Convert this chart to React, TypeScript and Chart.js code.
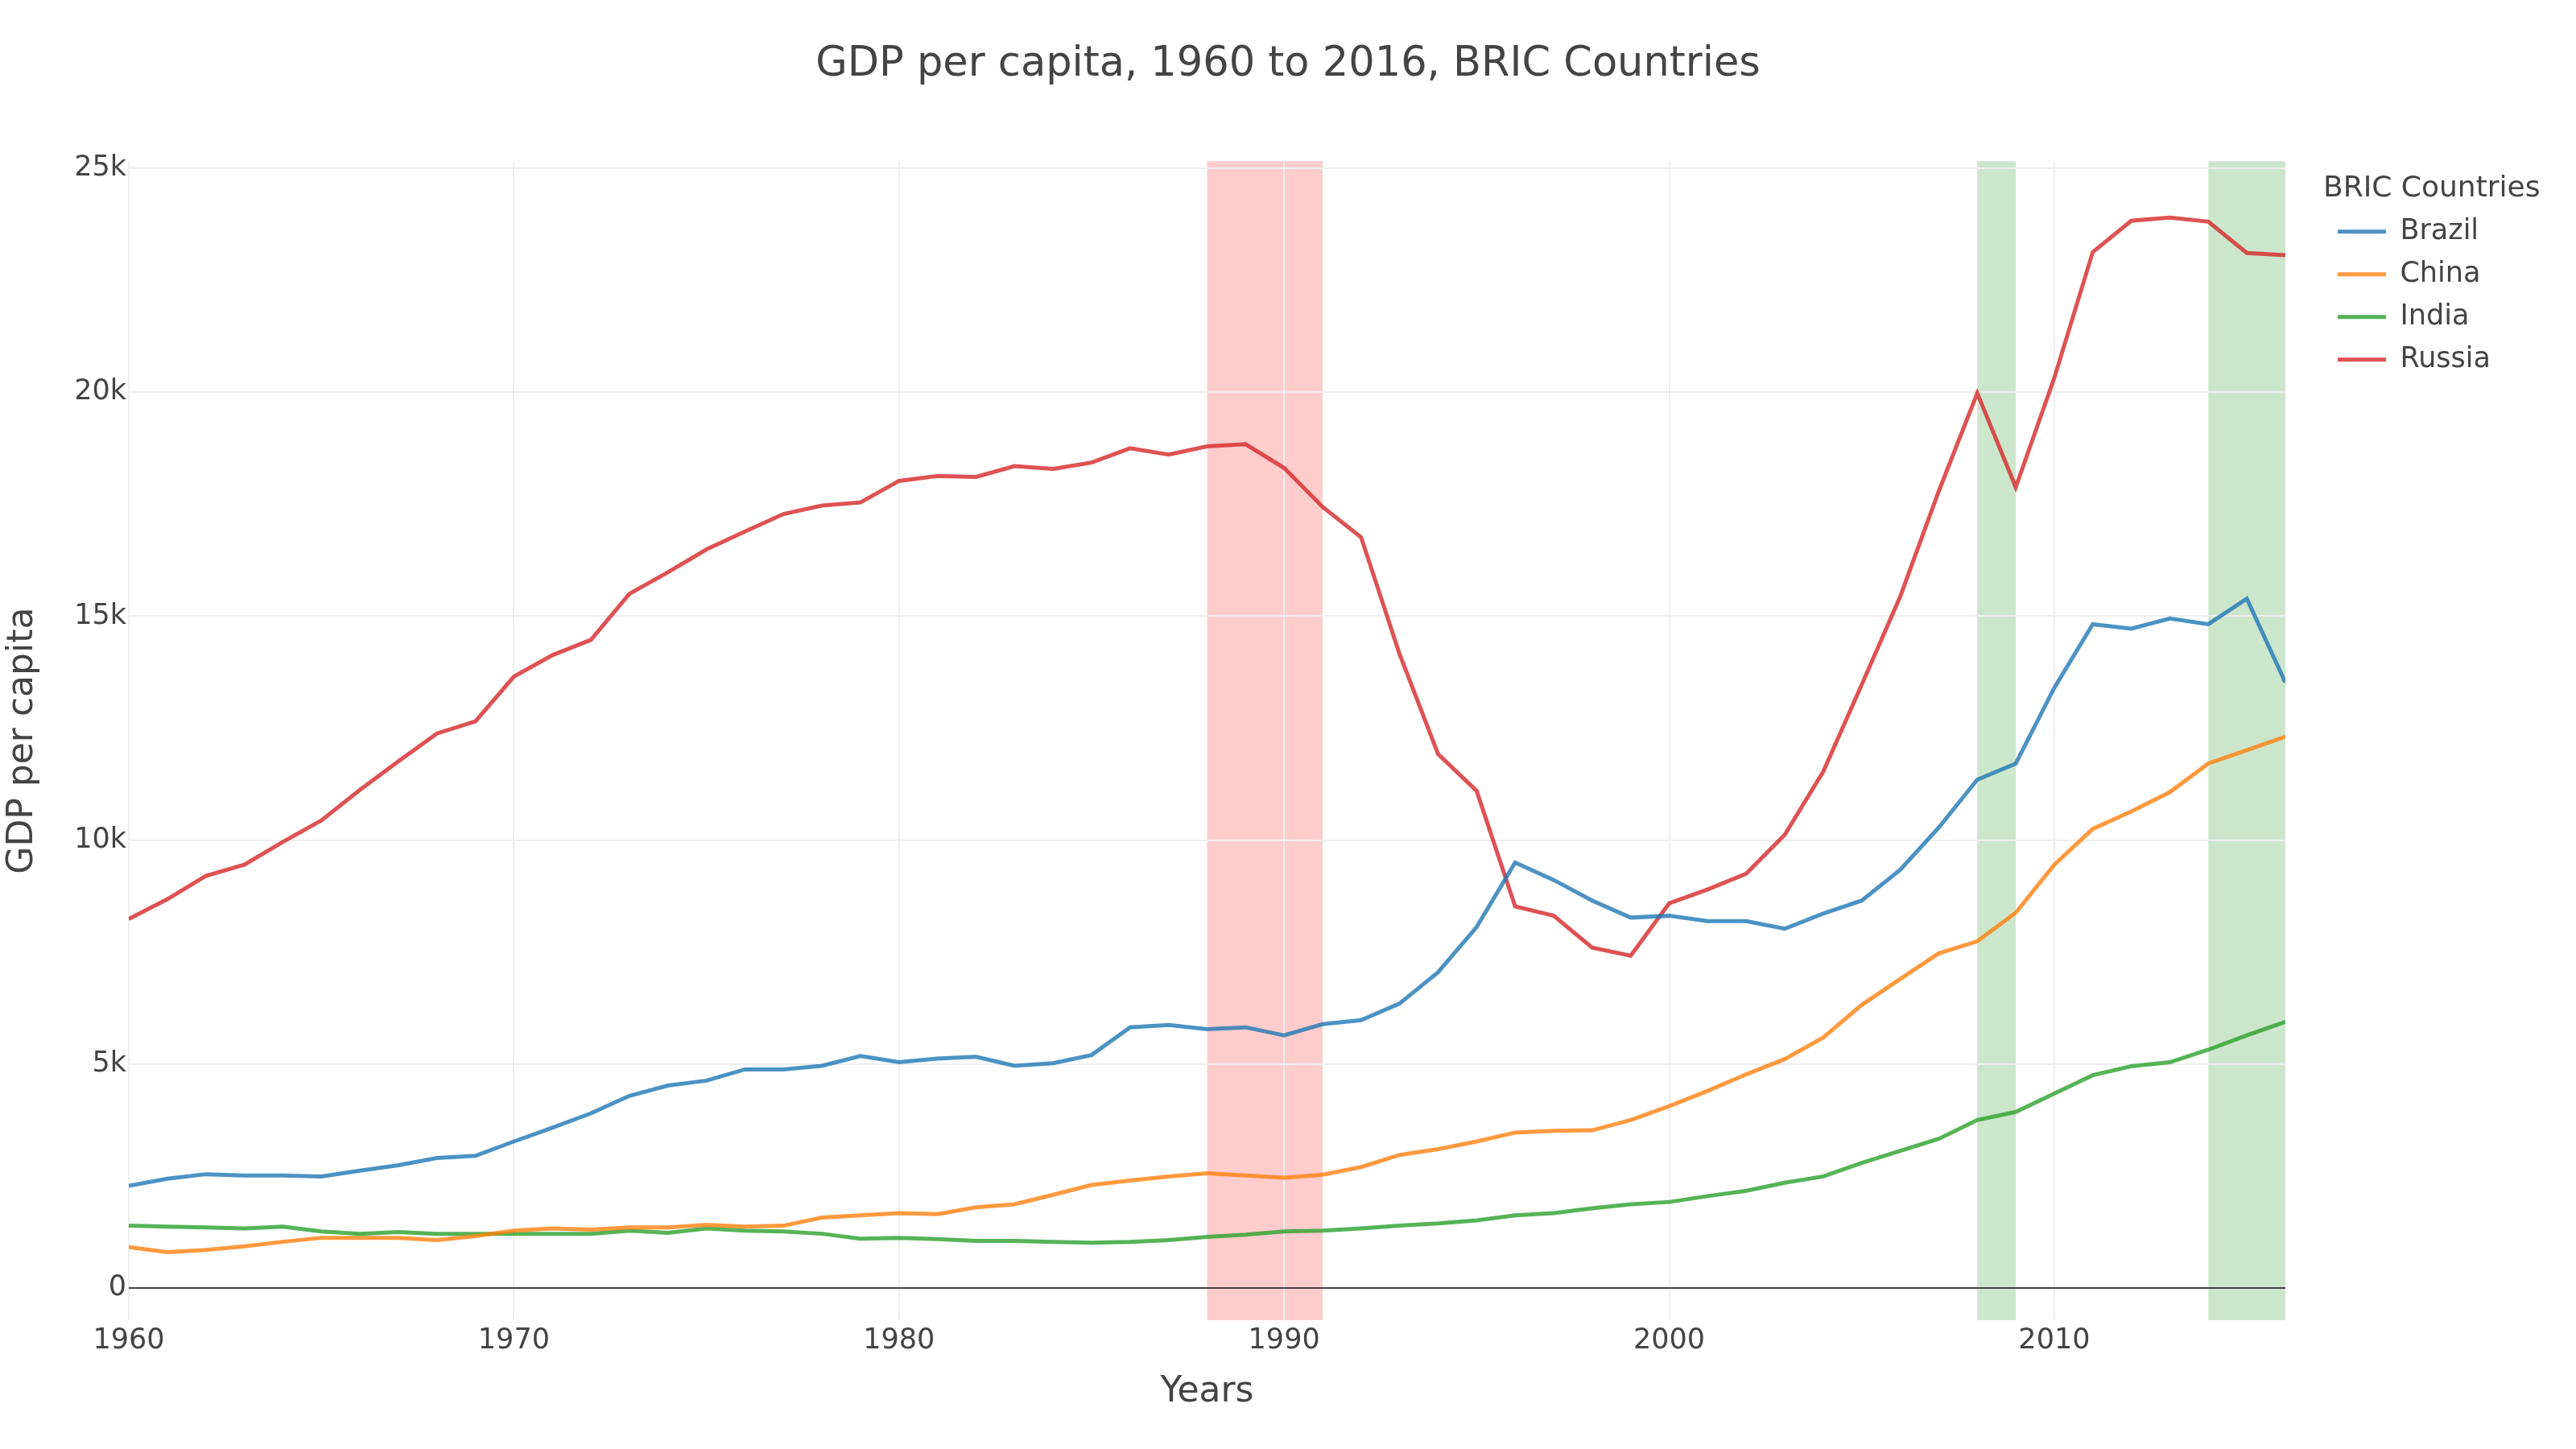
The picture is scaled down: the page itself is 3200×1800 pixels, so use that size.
import React, { useEffect, useRef } from 'react';
import { Chart, registerables } from 'chart.js';

Chart.register(...registerables);

// GDP per capita, 1960 - 2016
const years = [
  1960, 1961, 1962, 1963, 1964, 1965, 1966, 1967, 1968, 1969,
  1970, 1971, 1972, 1973, 1974, 1975, 1976, 1977, 1978, 1979,
  1980, 1981, 1982, 1983, 1984, 1985, 1986, 1987, 1988, 1989,
  1990, 1991, 1992, 1993, 1994, 1995, 1996, 1997, 1998, 1999,
  2000, 2001, 2002, 2003, 2004, 2005, 2006, 2007, 2008, 2009,
  2010, 2011, 2012, 2013, 2014, 2015, 2016,
];

const brazil = [
  2280, 2440, 2540, 2510, 2510, 2490, 2620, 2740, 2900, 2950,
  3270, 3580, 3900, 4290, 4520, 4630, 4880, 4880, 4960, 5180,
  5040, 5120, 5160, 4960, 5020, 5200, 5820, 5870, 5780, 5820,
  5640, 5890, 5980, 6350, 7050, 8060, 9500, 9110, 8650, 8270,
  8310, 8190, 8190, 8020, 8360, 8650, 9340, 10280, 11350, 11710,
  13400, 14820, 14720, 14950, 14820, 15390, 13520,
];

const china = [
  910, 800, 850, 930, 1030, 1120, 1120, 1120, 1070, 1160,
  1280, 1330, 1300, 1350, 1350, 1410, 1370, 1390, 1570, 1620,
  1670, 1650, 1800, 1870, 2080, 2300, 2400, 2490, 2560, 2510,
  2460, 2530, 2700, 2970, 3100, 3270, 3470, 3510, 3520, 3750,
  4060, 4400, 4770, 5110, 5590, 6320, 6900, 7470, 7740, 8380,
  9450, 10250, 10640, 11070, 11710, 12010, 12310,
];

const india = [
  1390, 1370, 1350, 1330, 1370, 1260, 1210, 1250, 1210, 1210,
  1210, 1210, 1210, 1280, 1230, 1330, 1280, 1260, 1210, 1100,
  1120, 1090, 1050, 1050, 1030, 1010, 1030, 1070, 1140, 1190,
  1260, 1280, 1330, 1390, 1440, 1510, 1620, 1670, 1780, 1870,
  1920, 2050, 2170, 2350, 2490, 2790, 3060, 3330, 3750, 3930,
  4340, 4750, 4950, 5040, 5320, 5640, 5940,
];

const russia = [
  8240, 8680, 9200, 9450, 9960, 10440, 11120, 11760, 12380, 12650,
  13650, 14130, 14470, 15500, 15980, 16490, 16890, 17280, 17470, 17540,
  18020, 18130, 18110, 18350, 18290, 18430, 18750, 18610, 18790, 18840,
  18310, 17440, 16760, 14150, 11920, 11100, 8520, 8310, 7600, 7420,
  8590, 8900, 9250, 10120, 11530, 13470, 15440, 17790, 19980, 17880,
  20320, 23130, 23830, 23900, 23810, 23110, 23060,
];

const xTickValues = [1960, 1970, 1980, 1990, 2000, 2010];
const yTickValues = [0, 5000, 10000, 15000, 20000, 25000];

// highlighted periods [start year, end year]
const redPeriods = [[1988, 1991]];
const greenPeriods = [[2008, 2009], [2014, 2016]];

const FONT = "'DejaVu Sans', Verdana, sans-serif";
const TEXT = '#444';

const shadePlugin = {
  id: 'shadePeriods',
  afterLayout(chart: any) {
    // legend clips to its own box; let the title run past the item column
    const lg = chart.legend;
    if (lg) {
      lg.right += 90;
      lg.width += 90;
    }
  },
  beforeDraw(chart: any) {
    const { ctx, chartArea, scales } = chart;
    const x = scales.x;
    const fill = (spans: number[][], color: string) => {
      spans.forEach(([a, b]) => {
        const x1 = x.getPixelForValue(a);
        const x2 = x.getPixelForValue(b);
        ctx.fillStyle = color;
        ctx.fillRect(x1, chartArea.top, x2 - x1, chartArea.bottom - chartArea.top);
      });
    };
    ctx.save();
    fill(redPeriods, 'rgba(255, 0, 0, 0.2)');
    fill(greenPeriods, 'rgba(0, 128, 0, 0.2)');
    ctx.restore();
  },
};

function toPoints(values: number[]) {
  return values.map((v, i) => ({ x: years[i], y: v }));
}

export default function App() {
  const chartRef = useRef<HTMLCanvasElement | null>(null);

  useEffect(() => {
    document.body.style.margin = '0';
    if (!chartRef.current) return;

    const line = (label: string, values: number[], color: string) => ({
      label,
      data: toPoints(values),
      borderColor: color,
      backgroundColor: color,
      borderWidth: 5,
      pointRadius: 0,
      tension: 0,
      fill: false,
    });

    const chart = new Chart(chartRef.current, {
      type: 'line',
      data: {
        datasets: [
          line('Brazil', brazil, 'rgba(31, 119, 180, 0.8)'),
          line('China', china, 'rgba(255, 127, 14, 0.8)'),
          line('India', india, 'rgba(44, 160, 44, 0.8)'),
          line('Russia', russia, 'rgba(214, 39, 40, 0.8)'),
        ],
      },
      options: {
        responsive: false,
        devicePixelRatio: 1,
        animation: false,
        layout: { padding: 0 },
        plugins: {
          title: {
            display: true,
            text: 'GDP per capita, 1960 to 2016, BRIC Countries',
            color: TEXT,
            font: { family: FONT, size: 51, weight: 'normal' },
            padding: { top: 50, bottom: 89 },
          },
          legend: {
            position: 'right',
            align: 'start',
            fullSize: false,
            title: {
              display: true,
              position: 'start',
              text: 'BRIC Countries',
              color: TEXT,
              font: { family: FONT, size: 36, lineHeight: 1 },
              padding: { top: 16, bottom: 0 },
            },
            labels: {
              usePointStyle: true,
              pointStyle: 'line',
              pointStyleWidth: 60,
              padding: 18,
              color: TEXT,
              font: { family: FONT, size: 35 },
            },
          },
          tooltip: { enabled: false },
        },
        scales: {
          x: {
            type: 'linear',
            min: 1960,
            max: 2016,
            afterFit: (s: any) => { s.height = 160; },
            afterBuildTicks: (s: any) => { s.ticks = xTickValues.map((value) => ({ value })); },
            border: { display: false },
            grid: { color: '#eeeeee', lineWidth: 2, drawTicks: false },
            ticks: {
              padding: 5,
              color: TEXT,
              font: { family: FONT, size: 35 },
              callback: (v: any) => String(v),
            },
            title: {
              display: true,
              text: 'Years',
              color: TEXT,
              font: { family: FONT, size: 44 },
              padding: { top: 0, bottom: 44 },
            },
          },
          y: {
            type: 'linear',
            min: -720,
            max: 25160,
            afterFit: (s: any) => { s.width = 160; },
            afterBuildTicks: (s: any) => { s.ticks = yTickValues.map((value) => ({ value })); },
            border: { display: false },
            grid: {
              drawTicks: false,
              color: (c: any) => (c.tick && c.tick.value === 0 ? '#444444' : '#eeeeee'),
              lineWidth: 2,
            },
            ticks: {
              padding: 3,
              color: TEXT,
              font: { family: FONT, size: 35 },
              callback: (v: any) => (v === 0 ? '0' : v / 1000 + 'k'),
            },
            title: {
              display: true,
              text: 'GDP per capita',
              color: TEXT,
              font: { family: FONT, size: 44 },
              padding: { top: 2, bottom: 0 },
            },
          },
          // invisible spacers: gap between plot and legend, and right margin
          yGap: {
            position: 'right',
            display: true,
            afterFit: (s: any) => { s.width = 47; },
            border: { display: false },
            grid: { display: false },
            ticks: { display: false },
          },
          yEdge: {
            position: 'right',
            weight: 2000,
            display: true,
            afterFit: (s: any) => { s.width = 96; },
            border: { display: false },
            grid: { display: false },
            ticks: { display: false },
          },
        },
      } as any,
      plugins: [shadePlugin],
    });

    return () => {
      chart.destroy();
    };
  }, []);

  return (
    <div style={{ width: 3200, height: 1800, background: '#fff' }}>
      <canvas ref={chartRef} width={3200} height={1800} style={{ display: 'block' }}></canvas>
    </div>
  );
}
